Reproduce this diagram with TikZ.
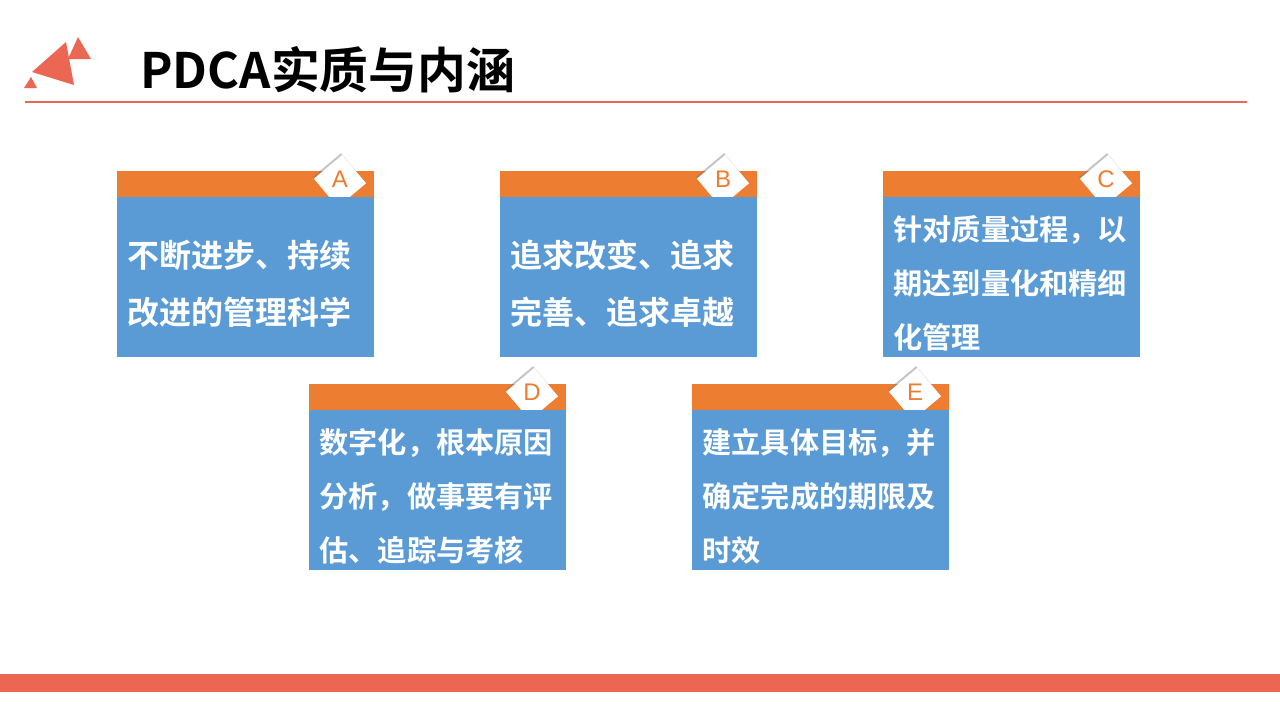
\documentclass[tikz,border=0pt]{standalone}
\usepackage{fontspec}
\setmainfont{Noto Sans CJK SC}[BoldFont=* Bold]
\newfontfamily\lettfont{Liberation Sans}
\usetikzlibrary{shadows}
\definecolor{slidered}{RGB}{236,102,84}
\definecolor{stripe}{RGB}{237,125,49}
\definecolor{cardblue}{RGB}{91,155,213}
\begin{document}
\begin{tikzpicture}[x=0.5pt, y=-0.5pt,
  stripe/.style={shape=rectangle, fill=stripe, anchor=north west, inner sep=0pt, minimum width=128.5pt, minimum height=13pt},
  card/.style={shape=rectangle, fill=cardblue, anchor=north west, inner sep=0pt, minimum width=128.5pt, minimum height=80pt},
  cardtext/.style={inner sep=0pt, text width=118.5pt, align=left, text=white, yshift=-3pt, font=\bfseries\fontsize{16}{28.5}\selectfont},
  longtext/.style={cardtext, font=\bfseries\fontsize{14.6}{27}\selectfont},
  tag/.style={shape=rectangle, fill=white, rotate=40, minimum size=18.5pt, inner sep=0pt, drop shadow={shadow xshift=-0.6pt, shadow yshift=0.9pt, opacity=0.45}},
  tagtext/.style={text=stripe, font=\lettfont\fontsize{12}{12}\selectfont}]
\useasboundingbox (0,0) rectangle (1280,720);
\fill[white] (0,0) rectangle (1280,720);
\fill[slidered] (32,72) -- (66,42) -- (74,85) -- cycle;
\fill[slidered] (78,37) -- (68,59) -- (91,59) -- cycle;
\fill[slidered] (31,77) -- (24,88) -- (37,88) -- cycle;
\node[anchor=west, inner sep=0pt, font=\bfseries\fontsize{24.4}{24.4}\selectfont] (title) at (140,70) {PDCA实质与内涵};
\coordinate (ruleL) at (25,102);
\coordinate (ruleR) at (1247,102);
\draw[slidered, line width=0.75pt] (ruleL) -- (ruleR);
\fill[slidered] (0,674) rectangle (1280,692);
\node[stripe] (sA) at (117,171) {};
\node[tag] (tA) at (340,181) {};
\node[tagtext] (lA) at (340,179) {A};
\node[card] (cA) at (117,197) {};
\node[cardtext] (xA) at (cA.center) {不断进步、持续\\改进的管理科学};
\node[stripe] (sB) at (500,171) {};
\node[tag] (tB) at (723,181) {};
\node[tagtext] (lB) at (723,179) {B};
\node[card] (cB) at (500,197) {};
\node[cardtext] (xB) at (cB.center) {追求改变、追求\\完善、追求卓越};
\node[stripe] (sC) at (883,171) {};
\node[tag] (tC) at (1106,181) {};
\node[tagtext] (lC) at (1106,179) {C};
\node[card] (cC) at (883,197) {};
\node[longtext] (xC) at (cC.center) {针对质量过程，以\\期达到量化和精细\\化管理};
\node[stripe] (sD) at (309,384) {};
\node[tag] (tD) at (532,394) {};
\node[tagtext] (lD) at (532,392) {D};
\node[card] (cD) at (309,410) {};
\node[longtext] (xD) at (cD.center) {数字化，根本原因\\分析，做事要有评\\估、追踪与考核};
\node[stripe] (sE) at (692,384) {};
\node[tag] (tE) at (915,394) {};
\node[tagtext] (lE) at (915,392) {E};
\node[card] (cE) at (692,410) {};
\node[longtext] (xE) at (cE.center) {建立具体目标，并\\确定完成的期限及\\时效};
\end{tikzpicture}
\end{document}
